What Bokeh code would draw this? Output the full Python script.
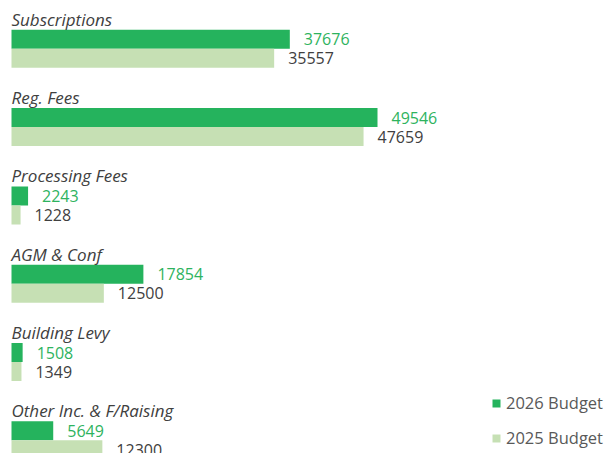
from bokeh.plotting import figure
from bokeh.models import Range1d, ColumnDataSource, Legend, LegendItem
from bokeh.core.properties import value
from bokeh.embed import file_html
from bokeh.resources import INLINE

categories = ["Subscriptions", "Reg. Fees", "Processing Fees", "AGM & Conf",
              "Building Levy", "Other Inc. & F/Raising"]
budget_2026 = [37676, 49546, 2243, 17854, 1508, 5649]
budget_2025 = [35557, 47659, 1228, 12500, 1349, 12300]

W, H = 607, 453
PITCH = 78.3          # px per group
BAR = 19.0 / PITCH    # bar height in group units
TOP = 38.8 / PITCH    # first 2026 bar centre from top
PX_PER_UNIT = 366.0 / 49546.0

x_start = -11 / PX_PER_UNIT
x_end = x_start + W / PX_PER_UNIT

p = figure(width=W, height=H, output_backend="svg", toolbar_location=None,
           x_range=Range1d(x_start, x_end),
           y_range=Range1d(H / PITCH - TOP, -TOP),
           min_border=0, min_border_left=0, min_border_right=0,
           min_border_top=0, min_border_bottom=0)
p.axis.visible = False
p.grid.visible = False
p.outline_line_color = None
p.background_fill_color = "white"
p.border_fill_color = "white"

FONT = "Open Sans"
G26 = "#25b35d"
G25 = "#c6e0b4"

idx = list(range(len(categories)))
src = ColumnDataSource(dict(
    y26=[i for i in idx],
    y25=[i + BAR for i in idx],
    ylab=[i - 20.0 / PITCH for i in idx],
    v26=budget_2026,
    v25=budget_2025,
    t26=[str(v) for v in budget_2026],
    t25=[str(v) for v in budget_2025],
    cat=categories,
    zero=[0] * len(idx),
))

r26 = p.hbar(y="y26", left="zero", right="v26", height=BAR, source=src,
             fill_color=G26, line_color=None)
r25 = p.hbar(y="y25", left="zero", right="v25", height=BAR, source=src,
             fill_color=G25, line_color=None)

p.text(x="zero", y="ylab", text="cat", source=src, text_font=value(FONT),
       text_font_style="italic", text_font_size="17px", text_color="#404040",
       text_baseline="alphabetic", text_align="left")
p.text(x="v26", y="y26", text="t26", source=src, x_offset=14,
       text_font=value(FONT), text_font_size="16px", text_color="#2eb35e",
       text_baseline="middle", text_align="left")
p.text(x="v25", y="y25", text="t25", source=src, x_offset=14,
       text_font=value(FONT), text_font_size="16px", text_color="#404040",
       text_baseline="middle", text_align="left")

legend = Legend(items=[LegendItem(label="2026 Budget", renderers=[r26]),
                       LegendItem(label="2025 Budget", renderers=[r25])],
                location=(491, 4), orientation="vertical",
                glyph_width=10, glyph_height=10, label_height=18,
                spacing=12, padding=0, margin=0, label_standoff=5,
                label_text_font=FONT, label_text_font_size="16.5px",
                label_text_color="#595959", border_line_color=None,
                background_fill_alpha=0)
p.add_layout(legend)

open("out.html", "w").write(file_html(p, INLINE))
